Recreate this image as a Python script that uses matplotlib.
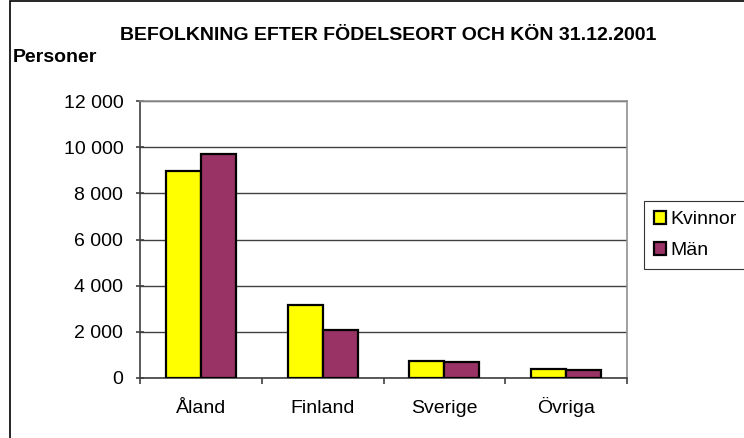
import matplotlib
matplotlib.use("Agg")
import matplotlib.pyplot as plt
import numpy as np
from matplotlib.patches import Rectangle
import matplotlib.transforms as mtransforms

categories = ["Åland", "Finland", "Sverige", "Övriga"]
kvinnor = [8970, 3180, 740, 380]
man = [9700, 2070, 700, 350]
series_names = ["Kvinnor", "Män"]
yticks = [0, 2000, 4000, 6000, 8000, 10000, 12000]
ytick_labels = ["0", "2 000", "4 000", "6 000", "8 000", "10 000", "12 000"]

plt.rcParams['font.family'] = ['Liberation Sans', 'DejaVu Sans']

fig = plt.figure(figsize=(7.44, 4.38), dpi=100)
ax = fig.add_axes([140/744, 1-378/438, (627-140)/744, (378-101)/438])

x = np.arange(len(categories))
w = 0.288
ax.bar(x - w/2, kvinnor, w, color="#FFFF00", edgecolor="black", linewidth=1.6, label=series_names[0], zorder=3)
ax.bar(x + w/2, man, w, color="#993366", edgecolor="black", linewidth=1.6, label=series_names[1], zorder=3)

ax.set_xlim(-0.5, len(categories) - 0.5)
ax.set_ylim(0, 12000)
ax.set_yticks(yticks)
ax.set_yticklabels(ytick_labels, fontsize=14)
ax.set_xticks([])
ax.set_xticks(np.arange(len(categories) + 1) - 0.5, minor=True)
ax.tick_params(axis='x', which='minor', length=4, width=1.2, color='#404040', direction='out')
ax.tick_params(axis='y', length=6, width=1.2, color='#404040', direction='inout', pad=9)
trans = mtransforms.blended_transform_factory(ax.transData, fig.transFigure)
for xi, cat in zip(x, categories):
    ax.text(xi, 1 - 413/438, cat, transform=trans, ha='center', va='baseline', fontsize=14)
ax.grid(axis='y', color='#404040', linewidth=1, zorder=0)
for s in ax.spines.values():
    s.set_color('#909090')
    s.set_linewidth(1.2)
ax.spines['bottom'].set_color('#404040')
ax.spines['left'].set_color('#404040')

leg = fig.legend(loc='upper left', bbox_to_anchor=(644/744, 1-201/438), fontsize=14,
                 frameon=True, fancybox=False, edgecolor='black', handlelength=0.65,
                 handleheight=0.65, handletextpad=0.2, borderpad=0.5, labelspacing=0.7,
                 borderaxespad=0)
leg.get_frame().set_linewidth(0.8)

fig.text(388/744, 1-35/438, "BEFOLKNING EFTER FÖDELSEORT OCH KÖN 31.12.2001",
         ha='center', va='center', fontsize=14, fontweight='bold')
fig.text(13/744, 1-58/438, "Personer", ha='left', va='center', fontsize=14, fontweight='bold')

fig.patches.append(Rectangle((10/744, -0.1), 1.2, 1.1 - 1.5/438, transform=fig.transFigure,
                             fill=False, edgecolor='black', linewidth=1.2))

fig.savefig("out.png", dpi=100)
